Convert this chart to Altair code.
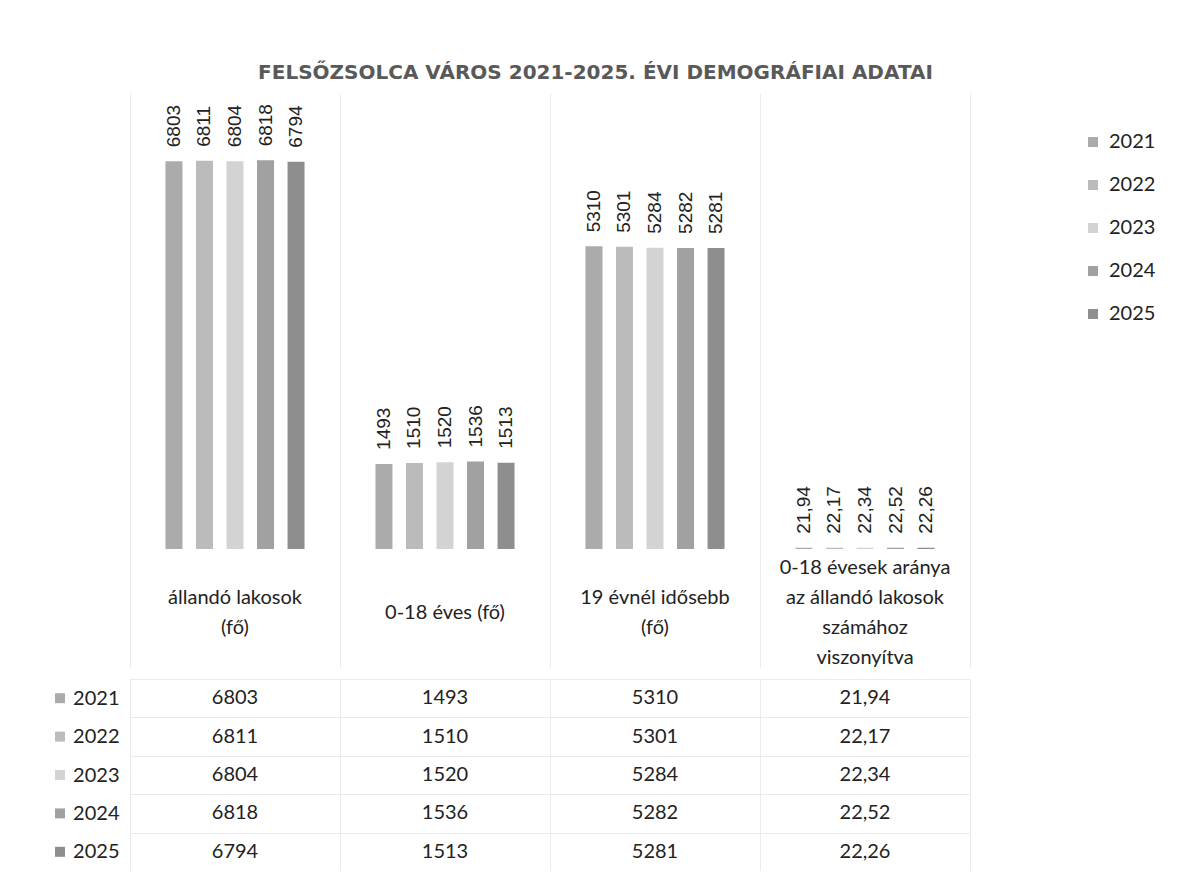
import altair as alt
import pandas as pd

# ---- data ----
header_labels = [
    "állandó lakosok|(fő)",
    "0-18 éves (fő)",
    "19 évnél idősebb|(fő)",
    "0-18 évesek aránya|az állandó lakosok|számához|viszonyítva",
]
years = ["2021", "2022", "2023", "2024", "2025"]
allando = [6803, 6811, 6804, 6818, 6794]
kor_0_18 = [1493, 1510, 1520, 1536, 1513]
kor_19_felett = [5310, 5301, 5284, 5282, 5281]
arany = [21.94, 22.17, 22.34, 22.52, 22.26]
colors = ["#ababab", "#bbbbbb", "#d3d3d3", "#a1a1a1", "#8e8e8e"]
title_text = "FELSŐZSOLCA VÁROS 2021-2025. ÉVI DEMOGRÁFIAI ADATAI"

series = [allando, kor_0_18, kor_19_felett, arany]
rows = []
for cat, vals in zip(header_labels, series):
    for y, v in zip(years, vals):
        lab = f"{v:.2f}".replace(".", ",") if isinstance(v, float) else str(v)
        rows.append({"cat": cat, "year": y, "value": v, "label": lab})
df = pd.DataFrame(rows)

# header lines: one row per text line, positioned by line index around the centre
hrows = []
for cat in header_labels:
    lines = cat.split("|")
    n = len(lines)
    for i, ln in enumerate(lines):
        hrows.append({"cat": cat, "line": ln, "pos": (n - 1) / 2 - i})
hdr = pd.DataFrame(hrows)

W = 840
text_color = "#222222"
grid_color = "#ebebeb"

color = alt.Color(
    "year:N",
    sort=years,
    scale=alt.Scale(domain=years, range=colors),
    legend=alt.Legend(
        title=None, orient="none", legendX=953, legendY=39,
        symbolType="square", symbolSize=100, symbolStrokeWidth=0,
        labelFont="Lato", labelFontSize=20, labelColor=text_color,
        rowPadding=23, labelOffset=6, padding=0,
    ),
)


def xenc(grid=True):
    return alt.X(
        "cat:N", sort=header_labels,
        scale=alt.Scale(paddingInner=0, paddingOuter=0),
        axis=alt.Axis(title=None, labels=False, ticks=False, domain=False,
                      grid=grid, gridColor=grid_color, tickBand="extent"),
    )


xoff = alt.XOffset("year:N", sort=years,
                   scale=alt.Scale(paddingInner=0, paddingOuter=0.94))
yval = alt.Y("value:Q", scale=alt.Scale(domain=[0, 8000], nice=False), axis=None)

bars = alt.Chart(df).mark_bar(size=17).encode(
    x=xenc(), xOffset=xoff, y=yval, color=color
)
bar_labels = alt.Chart(df).mark_text(
    angle=270, align="left", baseline="middle", dx=14,
    font="Liberation Sans", fontSize=19, color=text_color,
).encode(x=xenc(), xOffset=xoff, y=yval, text="label:N")

top = alt.layer(bars, bar_labels).properties(width=W, height=456)

header = alt.Chart(hdr).mark_text(
    font="Lato", fontSize=20, color=text_color, baseline="middle",
).encode(
    x=xenc(),
    y=alt.Y("pos:Q", scale=alt.Scale(domain=[-1.8333, 2.1333], nice=False,
                                      zero=False), axis=None),
    text="line:N",
).properties(width=W, height=119)

yrow = alt.Y(
    "year:N", sort=years,
    scale=alt.Scale(paddingInner=0, paddingOuter=0),
    axis=alt.Axis(title=None, ticks=False, domain=False, labelFont="Lato",
                  labelFontSize=20, labelColor=text_color, labelPadding=11,
                  grid=True, gridColor=grid_color, tickBand="extent"),
)
table_text = alt.Chart(df).mark_text(
    font="Lato", fontSize=20, color=text_color, baseline="middle"
).encode(x=xenc(), y=yrow, text="label:N")
table_keys = alt.Chart(pd.DataFrame({"year": years})).mark_square(
    size=100, opacity=1
).encode(x=alt.value(-70), y=yrow, color=color)
table = alt.layer(table_text, table_keys).properties(width=W, height=192)

chart = alt.vconcat(top, header, table, spacing=0).properties(
    title=alt.TitleParams(
        title_text, font="DejaVu Sans", fontSize=20, fontWeight="bold",
        color="#595959", anchor="middle", offset=10, dx=-10,
    ),
    padding={"left": 47, "top": 55, "right": 5, "bottom": 0},
).configure_view(stroke=None)

chart.save("out.html", embed_options={"renderer": "svg", "actions": False})
